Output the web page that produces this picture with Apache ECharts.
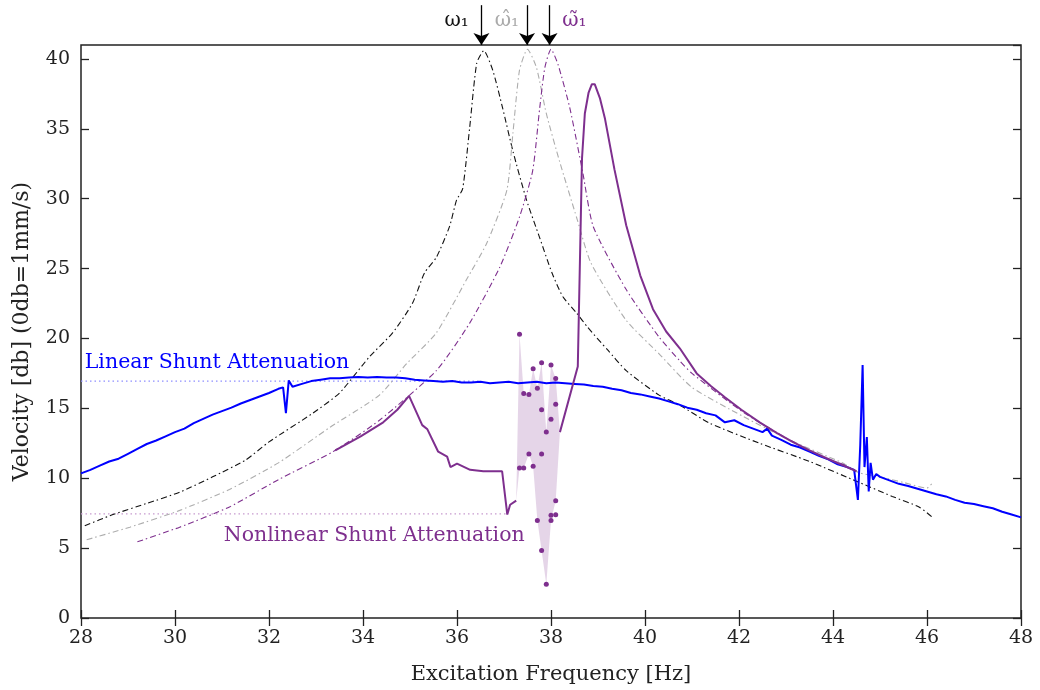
<!DOCTYPE html>
<html><head><meta charset="utf-8">
<script src="https://cdn.jsdelivr.net/npm/echarts@6/dist/echarts.min.js"></script>
<style>html,body{margin:0;padding:0;background:#fff}#c{width:1040px;height:690px}</style>
</head><body><div id="c"></div>
<script>
// ---- Data ----
const xTicks = [28,30,32,34,36,38,40,42,44,46,48];
const yTicks = [0,5,10,15,20,25,30,35,40];

// Linear shunt (blue, measured)
const linFreq = [28.0,28.2,28.4,28.6,28.8,29.0,29.2,29.4,29.6,29.8,30.0,30.2,30.4,30.6,30.8,31.0,31.2,31.4,31.6,31.8,32.0,32.2,32.3,32.36,32.42,32.5,32.7,32.9,33.1,33.3,33.5,33.7,33.9,34.1,34.3,34.5,34.7,34.9,35.1,35.3,35.5,35.7,35.9,36.1,36.3,36.5,36.7,36.9,37.1,37.3,37.5,37.7,37.9,38.1,38.3,38.5,38.7,38.9,39.1,39.3,39.5,39.7,39.9,40.1,40.3,40.5,40.7,40.9,41.1,41.3,41.5,41.7,41.9,42.1,42.3,42.5,42.6,42.7,42.9,43.1,43.3,43.5,43.7,43.9,44.1,44.3,44.45,44.53,44.58,44.63,44.67,44.72,44.76,44.8,44.85,44.92,45.0,45.2,45.4,45.6,45.8,46.0,46.2,46.4,46.6,46.8,47.0,47.2,47.4,47.6,47.8,48.0];
const linDb   = [10.35,10.6,10.9,11.2,11.4,11.75,12.1,12.45,12.7,13.0,13.3,13.55,13.95,14.25,14.55,14.8,15.05,15.35,15.6,15.85,16.1,16.4,16.5,14.65,17.0,16.55,16.75,16.95,17.05,17.15,17.15,17.2,17.25,17.2,17.25,17.2,17.2,17.15,17.05,17.0,16.95,16.9,16.95,16.85,16.85,16.9,16.8,16.85,16.9,16.8,16.85,16.9,16.8,16.85,16.8,16.75,16.7,16.6,16.55,16.4,16.3,16.1,16.0,15.85,15.7,15.5,15.3,15.05,14.9,14.65,14.5,14.0,14.15,13.8,13.55,13.3,13.55,13.05,12.75,12.4,12.2,11.9,11.6,11.35,11.0,10.8,10.6,8.45,12.4,18.1,10.8,12.95,9.05,11.1,9.9,10.3,10.1,9.85,9.6,9.45,9.25,9.05,8.85,8.7,8.45,8.25,8.15,8.0,7.85,7.6,7.4,7.2];

// Underlying structure, linear model (black dash-dot, omega_1)
const blkFreq = [28.08,28.68,29.4,30.1,30.8,31.5,32.0,32.93,33.5,34.14,34.63,35.05,35.31,35.56,35.84,35.99,36.12,36.27,36.42,36.57,36.76,36.97,37.19,37.48,37.76,38.02,38.25,38.55,38.78,39.2,39.6,40.3,40.73,41.37,42.44,43.5,44.56,45.26,45.83,46.1];
const blkDb   = [6.6,7.4,8.2,9.0,10.1,11.3,12.6,14.65,16.1,18.7,20.4,22.5,24.7,25.8,28.0,29.9,30.7,35.1,39.7,40.6,39.2,36.5,33.4,29.9,27.2,24.7,23.0,21.8,20.8,19.2,17.7,15.95,15.25,13.95,12.5,11.2,9.7,8.7,7.95,7.25];

// Gray dash-dot (omega_1 hat)
const gryFreq = [28.12,29.04,30.1,31.16,32.2,33.3,34.35,34.93,35.56,36.2,36.63,37.06,37.19,37.33,37.5,37.69,37.9,38.18,38.55,38.85,39.6,40.3,41.0,42.1,43.1,44.2,44.55,45.0,45.5,46.0,46.1];
const gryDb   = [5.6,6.5,7.7,9.2,11.1,13.65,15.95,18.2,20.4,24.2,26.8,30.6,34.7,39.2,40.7,39.4,36.1,32.7,28.6,25.4,21.3,18.9,16.5,14.4,12.7,11.1,10.4,10.1,9.7,9.3,9.6];

// Purple dash-dot (omega_1 tilde)
const pddFreq = [29.2,30.1,31.16,32.2,33.36,34.35,35.56,36.27,36.91,37.33,37.61,37.76,37.87,38.0,38.15,38.4,38.68,38.9,39.6,40.3,40.74,41.0,42.1,43.1,43.8,44.3];
const pddDb   = [5.45,6.5,7.95,9.9,11.9,14.15,17.7,21.1,25.1,28.7,32.0,36.5,39.4,40.7,39.6,36.5,31.8,28.0,23.5,20.1,18.4,17.5,14.7,12.7,11.5,10.9];

// Nonlinear shunt (purple solid) — two branches around the unstable zone
const nlFreqA = [33.41,33.95,34.43,34.73,34.98,35.26,35.37,35.6,35.79,35.86,36.0,36.28,36.56,36.96,37.07,37.13,37.26];
const nlDbA   = [12.0,13.0,14.0,14.9,15.9,13.8,13.5,11.9,11.55,10.8,11.05,10.6,10.5,10.5,7.4,8.1,8.4];
const nlFreqB = [38.19,38.57,38.66,38.72,38.8,38.87,38.93,39.04,39.15,39.35,39.6,39.9,40.17,40.45,40.74,41.1,41.4,41.7,42.05,42.44,42.8,43.14,43.5,43.85,44.2,44.5];
const nlDbB   = [13.3,18.0,32.9,36.1,37.6,38.2,38.2,37.2,35.7,32.1,28.1,24.5,22.1,20.5,19.3,17.5,16.6,15.8,14.9,14.0,13.25,12.6,12.0,11.45,10.95,10.5];

// Unstable zone: scattered samples and envelope band
const dotFreq = [37.33,37.33,37.42,37.42,37.53,37.53,37.62,37.62,37.71,37.71,37.80,37.80,37.80,37.80,37.90,37.90,38.00,38.00,38.00,38.00,38.10,38.10,38.10,38.10];
const dotDb   = [20.3,10.74,16.06,10.74,15.99,11.74,17.84,10.86,16.44,6.97,18.27,14.9,11.74,4.83,13.3,2.42,18.1,14.23,7.35,6.97,17.13,15.3,8.39,7.39];
const bandFreq  = [37.26,37.33,37.42,37.53,37.62,37.71,37.80,37.90,38.00,38.10,38.19];
const bandUpper = [8.4,20.3,16.06,15.99,17.84,16.44,18.27,13.3,18.1,17.13,13.3];
const bandLower = [8.4,10.74,10.74,11.74,10.86,6.97,4.83,2.42,6.97,8.39,13.3];

// Reference levels
const linLevel = 16.95, linLevelFreq = [28, 36.5];
const nlLevel = 7.45, nlLevelFreq = [28, 37.07];

// Resonance markers
const resFreq = [36.52, 37.49, 37.97];
const resNames = ['ω₁', 'ω̂₁', 'ω̃₁'];

// ---- Chart ----
const zip = (a, b) => a.map((v, i) => [v, b[i]]);
const FONT = 'DejaVu Serif';
const BLUE = '#0000ff', PURPLE = '#7e2f8e', GRAY = '#adadad', BLACK = '#111';

const chart = echarts.init(document.getElementById('c'), null, {renderer: 'canvas'});

const axisCommon = {
  type: 'value', splitLine: {show: false},
  axisLine: {show: false},
  axisTick: {show: true, inside: true, length: 8, lineStyle: {color: '#222', width: 1.3}},
};
const DASHDOT = [6, 3, 1.5, 3];

const option = {
  animation: false,
  backgroundColor: '#fff',
  grid: {left: 81, right: 19, top: 45, bottom: 72, show: true, borderColor: '#222', borderWidth: 1.5, containLabel: false},
  xAxis: [
    Object.assign({}, axisCommon, {min: 28, max: 48, interval: 2, position: 'bottom',
      name: 'Excitation Frequency [Hz]', nameLocation: 'middle', nameGap: 46,
      nameTextStyle: {fontFamily: FONT, fontSize: 21, color: '#222'},
      axisLabel: {fontFamily: FONT, fontSize: 19, color: '#222', margin: 11,
        formatter: v => xTicks.includes(v) ? String(v) : ''}}),
    Object.assign({}, axisCommon, {min: 28, max: 48, interval: 2, position: 'top', axisLabel: {show: false}})
  ],
  yAxis: [
    Object.assign({}, axisCommon, {min: 0, max: 41, interval: 5, position: 'left',
      name: 'Velocity [db] (0db=1mm/s)', nameLocation: 'middle', nameGap: 48,
      nameTextStyle: {fontFamily: FONT, fontSize: 22, color: '#222'},
      axisLabel: {fontFamily: FONT, fontSize: 19, color: '#222', margin: 11, showMaxLabel: false,
        formatter: v => yTicks.includes(v) ? String(v) : ''}}),
    Object.assign({}, axisCommon, {min: 0, max: 41, interval: 5, position: 'right', axisLabel: {show: false}})
  ],
  series: [
    {type: 'line', name: 'linLevel', data: zip(linLevelFreq, [linLevel, linLevel]), symbol: 'none', z: 1,
     lineStyle: {color: '#8f8fff', width: 1.2, type: [1.5, 3]}},
    {type: 'line', name: 'nlLevel', data: zip(nlLevelFreq, [nlLevel, nlLevel]), symbol: 'none', z: 1,
     lineStyle: {color: '#c79bd0', width: 1.2, type: [1.5, 3]}},
    {type: 'custom', name: 'band', coordinateSystem: 'cartesian2d', silent: true, z: 2,
     data: [[bandFreq[0], bandUpper[0]]],
     renderItem: (params, api) => {
       const pts = [];
       for (let i = 0; i < bandFreq.length; i++) pts.push(api.coord([bandFreq[i], bandUpper[i]]));
       for (let i = bandFreq.length - 1; i >= 0; i--) pts.push(api.coord([bandFreq[i], bandLower[i]]));
       return {type: 'polygon', shape: {points: pts}, style: {fill: 'rgba(126,47,142,0.2)'}};
     }},
    {type: 'line', name: 'black', data: zip(blkFreq, blkDb), symbol: 'none', z: 3, smooth: 0.2,
     lineStyle: {color: BLACK, width: 1.1, type: DASHDOT}},
    {type: 'line', name: 'gray', data: zip(gryFreq, gryDb), symbol: 'none', z: 3, smooth: 0.2,
     lineStyle: {color: GRAY, width: 1.1, type: DASHDOT}},
    {type: 'line', name: 'pdd', data: zip(pddFreq, pddDb), symbol: 'none', z: 3, smooth: 0.2,
     lineStyle: {color: PURPLE, width: 1.1, type: DASHDOT}},
    {type: 'line', name: 'linear', data: zip(linFreq, linDb), symbol: 'none', z: 4,
     lineStyle: {color: BLUE, width: 2}},
    {type: 'line', name: 'nlA', data: zip(nlFreqA, nlDbA), symbol: 'none', z: 5,
     lineStyle: {color: PURPLE, width: 2}},
    {type: 'line', name: 'nlB', data: zip(nlFreqB, nlDbB), symbol: 'none', z: 5,
     lineStyle: {color: PURPLE, width: 2}},
    {type: 'scatter', name: 'dots', data: zip(dotFreq, dotDb), symbol: 'circle', symbolSize: 5, z: 6,
     itemStyle: {color: PURPLE, opacity: 1}},
    {type: 'lines', name: 'arrows', coordinateSystem: 'cartesian2d', clip: false, z: 7,
     symbol: ['none', 'arrow'], symbolSize: [0, 12],
     lineStyle: {color: '#000', width: 1.3, opacity: 1},
     data: resFreq.map(f => ({coords: [[f, 43.85], [f, 41.0]]}))},
    {type: 'scatter', name: 'labels', clip: false, symbolSize: 0, z: 8, silent: true,
     itemStyle: {opacity: 1},
     data: [
       {value: [resFreq[0] - 0.27, 42.75], label: {show: true, formatter: resNames[0], position: 'left', distance: 0, color: '#111', fontSize: 20}},
       {value: [resFreq[1] - 0.17, 42.75], label: {show: true, formatter: resNames[1], position: 'left', distance: 0, color: '#aaaaaa', fontSize: 20}},
       {value: [resFreq[2] + 0.27, 42.75], label: {show: true, formatter: resNames[2], position: 'right', distance: 0, color: PURPLE, fontSize: 20}},
       {value: [28.08, 18.3], label: {show: true, formatter: 'Linear Shunt Attenuation', position: 'right', distance: 0, color: BLUE}},
       {value: [37.44, 5.9], label: {show: true, formatter: 'Nonlinear Shunt Attenuation', position: 'left', distance: 0, color: PURPLE}}
     ],
     label: {fontFamily: FONT, fontSize: 20.5, opacity: 1}}
  ]
};
chart.setOption(option);
</script>
</body></html>
